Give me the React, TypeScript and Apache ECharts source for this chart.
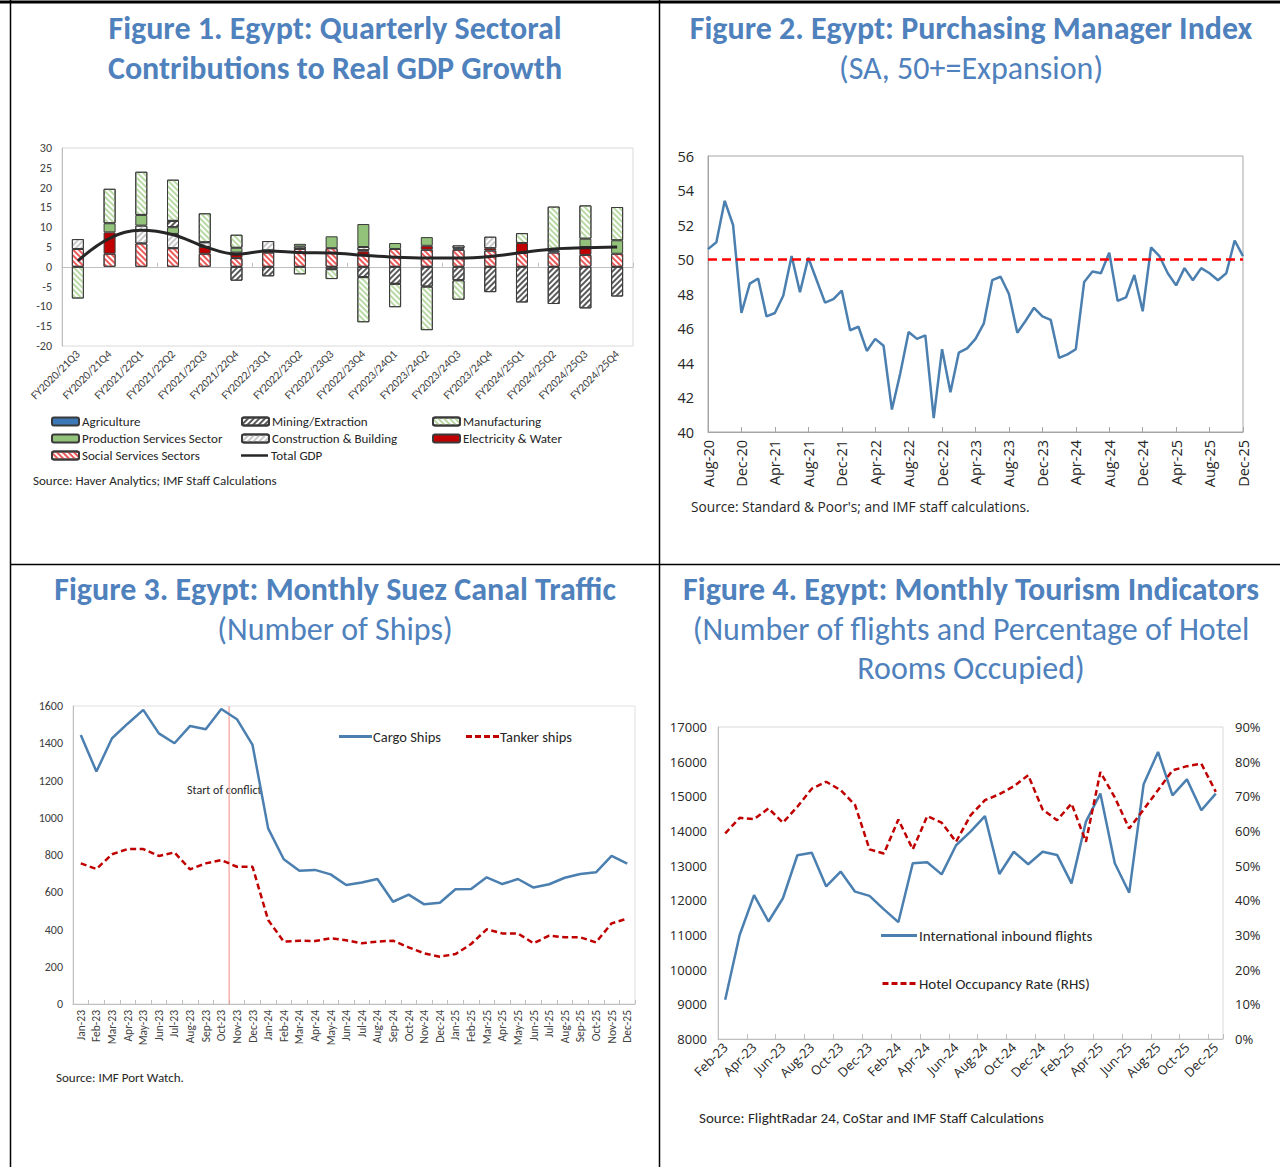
import React, { useEffect, useRef } from "react";
import * as echarts from "echarts";

// ---------- Figure 1: sectoral contributions (pp) ----------
const quarters = [
  "FY2020/21Q3", "FY2020/21Q4", "FY2021/22Q1", "FY2021/22Q2", "FY2021/22Q3", "FY2021/22Q4",
  "FY2022/23Q1", "FY2022/23Q2", "FY2022/23Q3", "FY2022/23Q4", "FY2023/24Q1", "FY2023/24Q2",
  "FY2023/24Q3", "FY2023/24Q4", "FY2024/25Q1", "FY2024/25Q2", "FY2024/25Q3", "FY2024/25Q4",
];
const socialServices = [4.5, 3.3, 5.9, 4.7, 3.3, 2.2, 3.6, 4.5, 4.7, 3.0, 4.5, 4.3, 4.3, 4.1, 3.5, 3.6, 3.0, 3.3];
const electricityWater = [0, 5.4, 0, 0, 1.7, 1.0, 0, 0, 0, 0.9, 0, 1.0, 0, 0.6, 2.5, 0, 2.0, 0];
const agriculture = [0, 0, 0, 0, 0, 0.4, 0.5, 0, 0, 0.3, 0, 0, 0.4, 0, 0, 0.5, 0, 0];
const construction = [2.5, 0, 4.5, 3.6, 1.2, 0, 2.4, 0.6, -0.6, 0.8, 0, 0, 0.7, 2.9, 0, 0, 0, 0];
const productionServices = [0, 2.3, 2.7, 1.7, 0, 1.2, 0, 0.7, 3.0, 5.8, 1.5, 2.2, 0, 0, 0, 0, 2.1, 3.4];
const mining = [0, 0, 0, 1.6, 0, -3.5, -2.4, 0, 0, -2.6, -4.3, -5.0, -3.4, -6.4, -9.0, -9.4, -10.5, -7.5];
const manufacturing = [-8.0, 8.7, 10.9, 10.4, 7.3, 3.3, 0, -1.9, -2.5, -11.4, -5.9, -11.0, -4.9, 0, 2.5, 11.1, 8.4, 8.4];
const totalGdp = [1.5, 7.2, 9.2, 8.1, 5.1, 3.2, 4.0, 3.6, 3.5, 2.9, 2.4, 2.2, 2.2, 2.6, 3.6, 4.5, 4.8, 5.0];

// ---------- Figure 2: PMI ----------
const pmiMonths = [
  "Aug-20", "Sep-20", "Oct-20", "Nov-20", "Dec-20",
  "Jan-21", "Feb-21", "Mar-21", "Apr-21", "May-21", "Jun-21", "Jul-21", "Aug-21", "Sep-21", "Oct-21", "Nov-21", "Dec-21",
  "Jan-22", "Feb-22", "Mar-22", "Apr-22", "May-22", "Jun-22", "Jul-22", "Aug-22", "Sep-22", "Oct-22", "Nov-22", "Dec-22",
  "Jan-23", "Feb-23", "Mar-23", "Apr-23", "May-23", "Jun-23", "Jul-23", "Aug-23", "Sep-23", "Oct-23", "Nov-23", "Dec-23",
  "Jan-24", "Feb-24", "Mar-24", "Apr-24", "May-24", "Jun-24", "Jul-24", "Aug-24", "Sep-24", "Oct-24", "Nov-24", "Dec-24",
  "Jan-25", "Feb-25", "Mar-25", "Apr-25", "May-25", "Jun-25", "Jul-25", "Aug-25", "Sep-25", "Oct-25", "Nov-25", "Dec-25",
];
const pmi = [
  50.6, 51.0, 53.4, 52.0, 46.9, 48.6, 48.9, 46.7, 46.9, 47.9,
  50.2, 48.1, 50.1, 48.8, 47.5, 47.7, 48.2, 45.9, 46.1, 44.7,
  45.4, 45.0, 41.3, 43.4, 45.8, 45.4, 45.6, 40.8, 44.8, 42.3,
  44.6, 44.85, 45.4, 46.3, 48.8, 49.0, 48.0, 45.75, 46.45, 47.2,
  46.7, 46.5, 44.3, 44.5, 44.8, 48.7, 49.3, 49.2, 50.4, 47.6,
  47.8, 49.1, 47.0, 50.7, 50.2, 49.2, 48.5, 49.5, 48.8, 49.5,
  49.2, 48.8, 49.2, 51.1, 50.2,
];
const pmiThreshold = 50;

// ---------- Figure 3: Suez Canal ----------
const suezMonths = [
  "Jan-23", "Feb-23", "Mar-23", "Apr-23", "May-23", "Jun-23", "Jul-23", "Aug-23", "Sep-23", "Oct-23", "Nov-23", "Dec-23",
  "Jan-24", "Feb-24", "Mar-24", "Apr-24", "May-24", "Jun-24", "Jul-24", "Aug-24", "Sep-24", "Oct-24", "Nov-24", "Dec-24",
  "Jan-25", "Feb-25", "Mar-25", "Apr-25", "May-25", "Jun-25", "Jul-25", "Aug-25", "Sep-25", "Oct-25", "Nov-25", "Dec-25",
];
const cargoShips = [
  1444, 1248, 1427, 1505, 1579, 1453, 1400, 1493, 1475, 1584, 1529, 1391,
  943, 777, 716, 720, 696, 639, 652, 671, 549, 587, 535, 544,
  616, 618, 680, 644, 671, 625, 643, 678, 698, 707, 795, 754,
];
const tankerShips = [
  755, 725, 804, 832, 832, 795, 814, 723, 755, 773, 737, 737,
  451, 335, 340, 338, 353, 342, 326, 335, 340, 304, 272, 254,
  268, 322, 401, 379, 379, 326, 367, 358, 358, 331, 433, 458,
];
const conflictStart = "Nov-23";

// ---------- Figure 4: Tourism ----------
const tourismMonths = [
  "Feb-23", "Mar-23", "Apr-23", "May-23", "Jun-23", "Jul-23", "Aug-23", "Sep-23", "Oct-23", "Nov-23", "Dec-23",
  "Jan-24", "Feb-24", "Mar-24", "Apr-24", "May-24", "Jun-24", "Jul-24", "Aug-24", "Sep-24", "Oct-24", "Nov-24", "Dec-24",
  "Jan-25", "Feb-25", "Mar-25", "Apr-25", "May-25", "Jun-25", "Jul-25", "Aug-25", "Sep-25", "Oct-25", "Nov-25", "Dec-25",
];
const inboundFlights = [
  9130, 11000, 12150, 11390, 12060, 13300, 13370, 12400, 12830, 12250, 12130,
  11740, 11370, 13070, 13100, 12750, 13590, 13980, 14430, 12760, 13400, 13040, 13400,
  13310, 12490, 14270, 15080, 13070, 12220, 15350, 16280, 15030, 15490, 14600, 15080,
];
const hotelOccupancy = [
  59.3, 63.8, 63.4, 66.5, 62.4, 67.0, 72.2, 74.2, 71.8, 67.5, 54.7,
  53.5, 63.3, 54.7, 64.3, 62.4, 56.9, 64.5, 68.9, 70.6, 72.9, 76.1, 66.2,
  63.1, 67.9, 56.9, 77.0, 69.7, 60.7, 66.2, 71.8, 77.5, 78.7, 79.4, 71.3,
];

// ---------- styling ----------
const BLUE = "#4a7fb0";
const DARKRED = "#c00000";
const TITLE = "#4f81bd";
const FONT = "Carlito, Lato, 'Open Sans', sans-serif";
const FONT2 = "'Open Sans', 'Noto Sans', sans-serif";
const LABEL = "#404040";
const DASH_ICON = "path://M0,0h6v3h-6zM9,0h6v3h-6zM18,0h6v3h-6zM27,0h6v3h-6z";
const plainNumber = (v: number) => String(v);

const hatch = (color: string, rotation: number, w: number, gap: number) => ({
  symbol: "rect",
  symbolSize: 1,
  color,
  dashArrayX: [1, 0],
  dashArrayY: [w, gap],
  rotation,
});

const barSeries = (name: string, data: number[], color: string, decal?: any) => ({
  name,
  type: "bar",
  stack: "sectors",
  xAxisIndex: 0,
  yAxisIndex: 0,
  barWidth: 12,
  data: data.map((v) => (v === 0 ? "-" : v)),
  itemStyle: { color, borderColor: "#3a3a3a", borderWidth: 1, decal },
});

const title = (text: string, x: number, y: number, bold: boolean) => ({
  type: "text",
  x,
  y,
  silent: true,
  style: {
    text,
    fill: TITLE,
    font: `${bold ? "bold " : ""}32px ${FONT}`,
    textAlign: "center",
    textVerticalAlign: "middle",
    align: "center",
    verticalAlign: "middle",
  },
});

const plainText = (text: string, x: number, y: number, size: number, family: string) => ({
  type: "text",
  x,
  y,
  silent: true,
  style: {
    text,
    fill: "#262626",
    font: `${size}px ${family}`,
    textVerticalAlign: "middle",
    verticalAlign: "middle",
  },
});

const border = (x1: number, y1: number, x2: number, y2: number, w: number) => ({
  type: "line",
  silent: true,
  shape: { x1, y1, x2, y2 },
  style: { stroke: "#000", lineWidth: w },
});

function buildOption() {
  const conflictIndex = suezMonths.indexOf(conflictStart);
  const legendText = (size: number, family: string) => ({ fontSize: size, color: "#262626", fontFamily: family });
  const fig1Legend = (left: number, top: number, data: any[], itemHeight = 8) => ({
    orient: "vertical", left, top, padding: 0, itemWidth: 27, itemHeight, itemGap: 2,
    textStyle: { ...legendText(13, FONT), lineHeight: 15, padding: [0, 0, 0, -2] },
    data, selectedMode: false,
  });

  return {
    animation: false,
    textStyle: { fontFamily: FONT },
    grid: [
      { left: 62, top: 148, width: 571, height: 198, show: true, borderColor: "#d9d9d9", borderWidth: 1 },
      { left: 708, top: 156, width: 535, height: 276, show: true, borderColor: "#a6a6a6", borderWidth: 1 },
      { left: 73, top: 706, width: 562, height: 298, show: true, borderColor: "#e0e0e0", borderWidth: 1 },
      { left: 718, top: 727, width: 505, height: 312, show: true, borderColor: "#d9d9d9", borderWidth: 1 },
    ],
    xAxis: [
      {
        type: "category", gridIndex: 0, data: quarters, boundaryGap: true,
        axisLine: { show: false, onZero: false }, axisTick: { show: false },
        axisLabel: { rotate: 45, interval: 0, fontSize: 11.5, color: LABEL, margin: 6 },
      },
      {
        type: "category", gridIndex: 0, data: quarters, boundaryGap: true,
        axisLine: { show: true, onZero: true, lineStyle: { color: "#bfbfbf", width: 1 } },
        axisTick: { show: true, length: 4, lineStyle: { color: "#bfbfbf" } },
        axisLabel: { show: false },
      },
      {
        type: "category", gridIndex: 1, data: pmiMonths, boundaryGap: false,
        axisLine: { show: true, lineStyle: { color: "#a6a6a6" } },
        axisTick: { show: true, inside: true, interval: 3, length: 5, lineStyle: { color: "#a6a6a6" } },
        axisLabel: { interval: 3, rotate: 90, fontSize: 14.5, color: "#262626", fontFamily: FONT2, margin: 8 },
      },
      {
        type: "category", gridIndex: 2, data: suezMonths, boundaryGap: true,
        axisLine: { show: true, lineStyle: { color: "#bfbfbf" } },
        axisTick: { show: true, inside: true, interval: 0, length: 4, lineStyle: { color: "#bfbfbf" } },
        axisLabel: { interval: 0, rotate: 90, fontSize: 11.5, color: LABEL, margin: 6 },
      },
      { type: "value", gridIndex: 2, min: 0, max: suezMonths.length, show: false },
      {
        type: "category", gridIndex: 3, data: tourismMonths, boundaryGap: true,
        axisLine: { show: true, lineStyle: { color: "#bfbfbf" } },
        axisTick: { show: true, inside: true, interval: 1, length: 5, lineStyle: { color: "#bfbfbf" } },
        axisLabel: { interval: 1, rotate: 45, fontSize: 13, color: "#262626", fontFamily: FONT2, margin: 6 },
      },
    ],
    yAxis: [
      {
        type: "value", gridIndex: 0, min: -20, max: 30, interval: 5,
        splitLine: { show: false }, axisTick: { show: false },
        axisLine: { show: true, lineStyle: { color: "#bfbfbf" } },
        axisLabel: { fontSize: 12, color: LABEL, margin: 10, formatter: plainNumber },
      },
      {
        type: "value", gridIndex: 1, min: 40, max: 56, interval: 2,
        splitLine: { show: false }, axisTick: { show: false },
        axisLine: { show: true, lineStyle: { color: "#a6a6a6" } },
        axisLabel: { fontSize: 14.5, color: "#262626", fontFamily: FONT2, margin: 14, formatter: plainNumber },
      },
      {
        type: "value", gridIndex: 2, min: 0, max: 1600, interval: 200,
        splitLine: { show: false }, axisTick: { show: false },
        axisLine: { show: true, lineStyle: { color: "#bfbfbf" } },
        axisLabel: { fontSize: 12, color: LABEL, margin: 10, formatter: plainNumber },
      },
      {
        type: "value", gridIndex: 3, min: 8000, max: 17000, interval: 1000,
        splitLine: { show: false }, axisTick: { show: false },
        axisLine: { show: true, lineStyle: { color: "#bfbfbf" } },
        axisLabel: { fontSize: 13, color: "#262626", fontFamily: FONT2, margin: 11, formatter: plainNumber },
      },
      {
        type: "value", gridIndex: 3, min: 0, max: 90, interval: 10, position: "right",
        splitLine: { show: false }, axisTick: { show: false }, axisLine: { show: false },
        axisLabel: { fontSize: 13, color: "#262626", fontFamily: FONT2, margin: 12, formatter: "{value}%" },
      },
    ],
    legend: [
      fig1Legend(51, 414, ["Agriculture", "Production Services Sector", "Social Services Sectors"]),
      fig1Legend(241, 414, ["Mining/Extraction", "Construction & Building"]),
      fig1Legend(241, 448, [{ name: "Total GDP", icon: "rect" }], 2.5),
      fig1Legend(432, 414, ["Manufacturing", "Electricity & Water"]),
      {
        orient: "horizontal", left: 339, top: 729, padding: 0, itemWidth: 33, itemHeight: 3, itemGap: 25,
        textStyle: { ...legendText(14.5, FONT), padding: [0, 0, 0, -4] },
        data: [{ name: "Cargo Ships", icon: "rect" }, { name: "Tanker ships", icon: DASH_ICON }],
        selectedMode: false,
      },
      {
        orient: "vertical", left: 881, top: 928, padding: 0, itemWidth: 36, itemHeight: 3, itemGap: 33,
        textStyle: { ...legendText(15, FONT), padding: [0, 0, 0, -3] },
        data: [
          { name: "International inbound flights", icon: "rect" },
          { name: "Hotel Occupancy Rate (RHS)", icon: DASH_ICON },
        ],
        selectedMode: false,
      },
    ],
    series: [
      barSeries("Social Services Sectors", socialServices, "#ffffff", hatch("#ec5b5b", Math.PI / 4, 1.6, 1.6)),
      barSeries("Electricity & Water", electricityWater, "#c00000"),
      barSeries("Agriculture", agriculture, "#3b78b5"),
      barSeries("Construction & Building", construction, "#ffffff", hatch("#c8c8c8", -Math.PI / 4, 1.4, 1.8)),
      barSeries("Production Services Sector", productionServices, "#93c27a"),
      barSeries("Mining/Extraction", mining, "#ffffff", hatch("#595959", -Math.PI / 4, 1.4, 1.6)),
      barSeries("Manufacturing", manufacturing, "#ffffff", hatch("#b9d9a5", Math.PI / 4, 1.4, 2.0)),
      {
        name: "Total GDP", type: "line", xAxisIndex: 0, yAxisIndex: 0, data: totalGdp,
        smooth: 0.4, symbol: "none", z: 5,
        lineStyle: { color: "#262626", width: 3 }, itemStyle: { color: "#262626" },
      },
      {
        name: "PMI", type: "line", xAxisIndex: 2, yAxisIndex: 1, data: pmi,
        symbol: "none", lineStyle: { color: BLUE, width: 2.5 }, itemStyle: { color: BLUE },
        markLine: {
          silent: true, symbol: ["none", "none"], label: { show: false },
          lineStyle: { color: "#ff0000", width: 2.5, type: [9, 5] },
          data: [{ yAxis: pmiThreshold }],
        },
      },
      {
        name: "Conflict", type: "line", xAxisIndex: 4, yAxisIndex: 2, silent: true,
        data: [[conflictIndex, 0], [conflictIndex, 1600]],
        symbol: "none", lineStyle: { color: "#f4a09a", width: 1.2 }, z: 1,
      },
      {
        name: "Cargo Ships", type: "line", xAxisIndex: 3, yAxisIndex: 2, data: cargoShips,
        symbol: "none", lineStyle: { color: BLUE, width: 2.5 }, itemStyle: { color: BLUE },
      },
      {
        name: "Tanker ships", type: "line", xAxisIndex: 3, yAxisIndex: 2, data: tankerShips,
        symbol: "none", lineStyle: { color: DARKRED, width: 2.5, type: [6, 3.5] }, itemStyle: { color: DARKRED },
      },
      {
        name: "International inbound flights", type: "line", xAxisIndex: 5, yAxisIndex: 3, data: inboundFlights,
        symbol: "none", lineStyle: { color: BLUE, width: 2.5 }, itemStyle: { color: BLUE },
      },
      {
        name: "Hotel Occupancy Rate (RHS)", type: "line", xAxisIndex: 5, yAxisIndex: 4, data: hotelOccupancy,
        symbol: "none", lineStyle: { color: DARKRED, width: 2.5, type: [6, 3.5] }, itemStyle: { color: DARKRED },
      },
    ],
    graphic: [
      border(0, 2, 1280, 2, 3),
      border(10.5, 0, 10.5, 1167, 1.5),
      border(659.5, 0, 659.5, 1167, 1.5),
      border(10, 564.5, 1280, 564.5, 1.5),
      title("Figure 1. Egypt: Quarterly Sectoral", 335, 28, true),
      title("Contributions to Real GDP Growth", 335, 68, true),
      title("Figure 2. Egypt: Purchasing Manager Index", 971, 28, true),
      title("(SA, 50+=Expansion)", 971, 68, false),
      title("Figure 3. Egypt: Monthly Suez Canal Traffic", 335, 589, true),
      title("(Number of Ships)", 335, 629, false),
      title("Figure 4. Egypt: Monthly Tourism Indicators", 971, 589, true),
      title("(Number of flights and Percentage of Hotel", 971, 629, false),
      title("Rooms Occupied)", 971, 668, false),
      plainText("Source: Haver Analytics; IMF Staff Calculations", 33, 480, 13, FONT),
      plainText("Source: Standard & Poor's; and IMF staff calculations.", 691, 506, 13.7, FONT2),
      plainText("Source: IMF Port Watch.", 56, 1077, 13, FONT),
      plainText("Source: FlightRadar 24, CoStar and IMF Staff Calculations", 699, 1118, 15, FONT),
      plainText("Start of conflict", 187, 790, 12, FONT),
    ],
  };
}

export default function App() {
  const ref = useRef<HTMLDivElement>(null);
  useEffect(() => {
    document.body.style.margin = "0";
    const chart = echarts.init(ref.current as HTMLDivElement, null, { renderer: "svg" });
    chart.setOption(buildOption() as any);
    return () => chart.dispose();
  }, []);
  return <div ref={ref} style={{ width: 1280, height: 1167, background: "#fff" }} />;
}
